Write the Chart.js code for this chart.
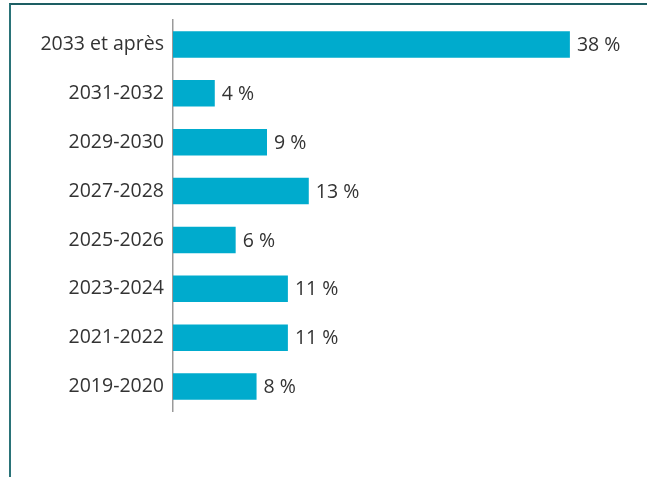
<!DOCTYPE html>
<html>
<head>
<meta charset="utf-8">
<script src="https://cdn.jsdelivr.net/npm/chart.js@4"></script>
<style>
    html, body { margin: 0; padding: 0; background: #fff; }
    #frame {
        position: relative;
        width: 647px;
        height: 477px;
        overflow: hidden;
    }
    #frame .edge {
        position: absolute;
        left: 9px;
        top: 3px;
        right: 0;
        bottom: 0;
        border-top: 2px solid #1d5e63;
        border-left: 2px solid #2a7378;
    }
    canvas { position: absolute; left: 0; top: 0; }
</style>
</head>
<body>
<div id="frame">
    <div class="edge"></div>
    <canvas id="periodes" width="647" height="477"></canvas>
</div>
<script>
const periodes = ['2033 et après', '2031-2032', '2029-2030', '2027-2028', '2025-2026', '2023-2024', '2021-2022', '2019-2020'];
const parts = [38, 4, 9, 13, 6, 11, 11, 8];

const textFont = '"Open Sans", "DejaVu Sans", sans-serif';

// écrit "xx %" au bout de chaque barre
const etiquettes = {
    id: 'etiquettes',
    afterDatasetsDraw(chart) {
        const ctx = chart.ctx;
        const meta = chart.getDatasetMeta(0);
        ctx.save();
        ctx.font = '19.5px ' + textFont;
        ctx.fillStyle = '#333333';
        ctx.textAlign = 'left';
        ctx.textBaseline = 'middle';
        meta.data.forEach((bar, i) => {
            ctx.fillText(parts[i] + ' %', bar.x + 7, bar.y + 1);
        });
        ctx.restore();
    }
};

new Chart(document.getElementById('periodes'), {
    type: 'bar',
    data: {
        labels: periodes,
        datasets: [{
            data: parts,
            backgroundColor: '#00abcd',
            borderWidth: 0,
            barPercentage: 0.54,
            categoryPercentage: 1
        }]
    },
    options: {
        indexAxis: 'y',
        responsive: false,
        animation: false,
        layout: {
            padding: { top: 20, bottom: 66, left: 0, right: 4 }
        },
        plugins: {
            legend: { display: false },
            tooltip: { enabled: false }
        },
        scales: {
            x: {
                display: false,
                min: 0,
                max: 45
            },
            y: {
                afterFit(scale) { scale.width = 173; },
                grid: { display: false },
                border: { display: true, color: '#9a9a9a', width: 1.5 },
                ticks: {
                    color: '#333333',
                    padding: 1,
                    font: { family: textFont, size: 19.5 }
                }
            }
        }
    },
    plugins: [etiquettes]
});
</script>
</body>
</html>
